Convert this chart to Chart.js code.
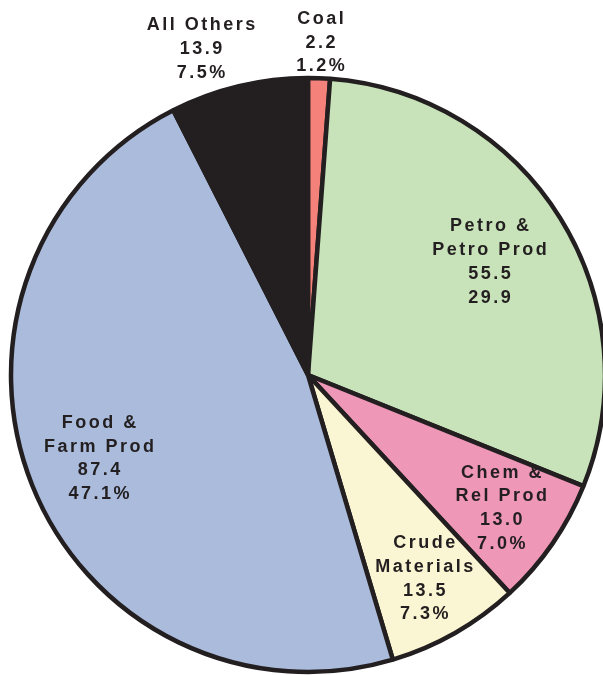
<!DOCTYPE html>
<html>
<head>
<meta charset="utf-8">
<script src="https://cdn.jsdelivr.net/npm/chart.js@4.4.1/dist/chart.umd.min.js"></script>
<style>
  html, body { margin: 0; padding: 0; background: #fff; overflow: hidden; }
</style>
</head>
<body>
<canvas id="pieChart" width="603" height="675"></canvas>
<script>
// data (clockwise from 12 o'clock)
var categories = [
  ["Coal"],
  ["Petro &", "Petro Prod"],
  ["Chem &", "Rel Prod"],
  ["Crude", "Materials"],
  ["Food &", "Farm Prod"],
  ["All Others"]
];
var values = [2.2, 55.5, 13.0, 13.5, 87.4, 13.9];
var shares = ["1.2%", "29.9", "7.0%", "7.3%", "47.1%", "7.5%"];

var colors = ["#f4827a", "#c8e3b9", "#ee97b6", "#faf5d2", "#aabbdc", "#231f20"];

// where each label sits: fraction of radius and turn off the slice middle (deg)
var labelDist = [1.12, 0.72, 0.79, 0.79, 0.758, 1.155];
var labelTurn = [0, 0, 0, 0, 0, -4.7];

var sliceLabels = {
  id: 'sliceLabels',
  afterDatasetsDraw: function (chart) {
    var ctx = chart.ctx;
    var meta = chart.getDatasetMeta(0);
    var spacing = 2.5;
    var lh = 23.7;
    ctx.save();
    ctx.font = 'bold 18px "Liberation Sans", Arial, sans-serif';
    ctx.letterSpacing = spacing + 'px';
    ctx.fillStyle = '#231f20';
    ctx.textAlign = 'center';
    ctx.textBaseline = 'middle';
    meta.data.forEach(function (arc, i) {
      var p = arc.getProps(['x', 'y', 'startAngle', 'endAngle', 'outerRadius'], true);
      var a = (p.startAngle + p.endAngle) / 2 + labelTurn[i] * Math.PI / 180;
      var r = p.outerRadius * labelDist[i];
      var cx = p.x + Math.cos(a) * r;
      var cy = p.y + Math.sin(a) * r;
      var lines = categories[i].concat([values[i].toFixed(1), shares[i]]);
      lines.forEach(function (t, j) {
        ctx.fillText(t, cx + spacing / 2, cy + (j - (lines.length - 1) / 2) * lh);
      });
    });
    ctx.restore();
  }
};

var pieChart = new Chart(document.getElementById('pieChart'), {
  type: 'pie',
  plugins: [sliceLabels],
  data: {
    labels: categories.map(function (c) { return c.join(' '); }),
    datasets: [{
      data: values,
      backgroundColor: colors,
      borderColor: '#231f20',
      borderWidth: 4.5,
      clip: false
    }]
  },
  options: {
    responsive: false,
    animation: false,
    radius: 297,
    layout: {
      padding: { top: 75, bottom: 0, left: 13, right: 0 }
    },
    plugins: {
      legend: { display: false },
      tooltip: { enabled: false }
    }
  }
});
</script>
</body>
</html>
